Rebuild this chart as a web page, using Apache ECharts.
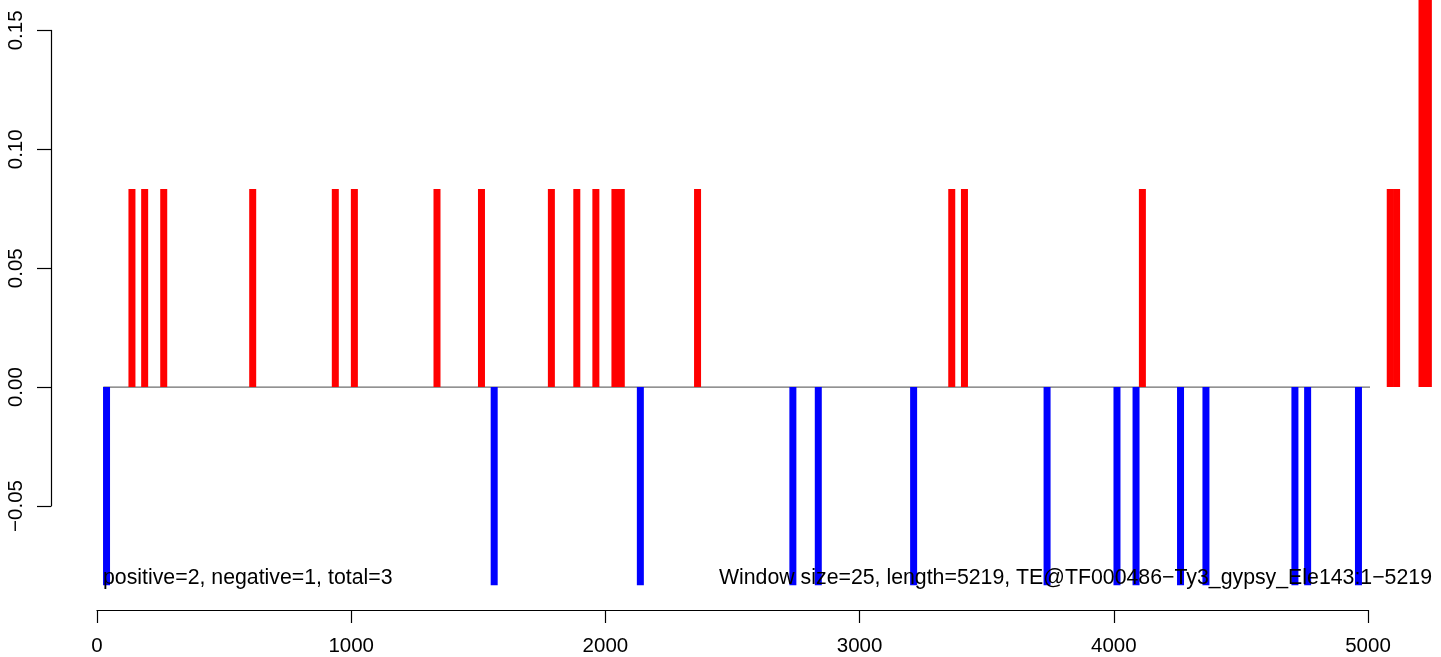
<!DOCTYPE html>
<html>
<head>
<meta charset="utf-8">
<script src="https://cdn.jsdelivr.net/npm/echarts/dist/echarts.min.js"></script>
<style>
html,body{margin:0;padding:0;background:#fff;}
#chart{width:1441px;height:657px;}
</style>
</head>
<body>
<div id="chart"></div>
<script>
// ---- data ----
const seqLength = 5219;
const windowSize = 25;
const redPositions = [137.5, 187.5, 262.5, 612.5, 937.5, 1012.5, 1337.5, 1512.5, 1787.5, 1887.5, 1962.5, 2037.5, 2062.5, 2362.5, 3362.5, 3412.5, 4112.5, 5087.5, 5112.5, 5212.5, 5237.5];
const redValues = [0.0833, 0.0833, 0.0833, 0.0833, 0.0833, 0.0833, 0.0833, 0.0833, 0.0833, 0.0833, 0.0833, 0.0833, 0.0833, 0.0833, 0.0833, 0.0833, 0.0833, 0.0833, 0.0833, 0.1667, 0.1667];
const bluePositions = [37.5, 1562.5, 2137.5, 2737.5, 2837.5, 3212.5, 3737.5, 4012.5, 4087.5, 4262.5, 4362.5, 4712.5, 4762.5, 4962.5];
const blueValues = [-0.0833, -0.0833, -0.0833, -0.0833, -0.0833, -0.0833, -0.0833, -0.0833, -0.0833, -0.0833, -0.0833, -0.0833, -0.0833, -0.0833];
const xTicks = [0, 1000, 2000, 3000, 4000, 5000];
const yTicks = [-0.05, 0.00, 0.05, 0.10, 0.15];
const baselineX = [25, seqLength];
const leftNote = 'positive=2, negative=1, total=3';
const rightNote = 'Window size=' + windowSize + ', length=' + seqLength + ', TE@TF000486\u2212Ty3_gypsy_Ele143:1\u2212' + seqLength;

const FONT = '"Liberation Sans", Arial, Helvetica, sans-serif';
const redData = redPositions.map((x, i) => [x, redValues[i]]);
const blueData = bluePositions.map((x, i) => [x, blueValues[i]]);
const baseData = baselineX.map(x => [x, 0]);

const chart = echarts.init(document.getElementById('chart'), null, {renderer: 'canvas'});
chart.setOption({
  animation: false,
  backgroundColor: '#ffffff',
  grid: {left: 97, top: 30.4, width: 1271, height: 476.9, containLabel: false},
  xAxis: {
    type: 'value',
    min: xTicks[0], max: xTicks[xTicks.length - 1], interval: 1000,
    offset: 104,
    axisLine: {show: true, onZero: false, lineStyle: {color: '#000', width: 1.2}},
    axisTick: {show: true, length: 13, lineStyle: {color: '#000', width: 1.2}},
    axisLabel: {color: '#000', fontSize: 20.5, fontFamily: FONT, margin: 26, showMinLabel: true, showMaxLabel: true,
      formatter: v => String(v)},
    splitLine: {show: false}
  },
  yAxis: {
    type: 'value',
    min: yTicks[0], max: yTicks[yTicks.length - 1], interval: 0.05,
    offset: 46,
    axisLine: {show: true, onZero: false, lineStyle: {color: '#000', width: 1.2}},
    axisTick: {show: true, length: 14, lineStyle: {color: '#000', width: 1.2}},
    axisLabel: {
      color: '#000', fontSize: 20.5, fontFamily: FONT, rotate: 90, margin: 24,
      showMinLabel: true, showMaxLabel: true,
      formatter: v => (v < -1e-9 ? '\u2212' : '') + Math.abs(v).toFixed(2)
    },
    splitLine: {show: false}
  },
  series: [
    {
      type: 'line', data: baseData, symbol: 'none', z: 1,
      lineStyle: {color: '#6e6e6e', width: 1.3}, silent: true
    },
    {
      type: 'bar', data: redData, barWidth: 7, barGap: '-100%', clip: false, z: 2,
      itemStyle: {color: '#ff0000'}
    },
    {
      type: 'bar', data: blueData, barWidth: 7, barGap: '-100%', clip: false, z: 2,
      itemStyle: {color: '#0000ff'}
    }
  ],
  graphic: [
    {type: 'text', left: 103, top: 568, z: 10,
     style: {text: leftNote, fill: '#000', font: '21.3px ' + FONT}},
    {type: 'text', right: 9, top: 568, z: 10,
     style: {text: rightNote, fill: '#000', font: '21.3px ' + FONT}}
  ]
});
</script>
</body>
</html>
